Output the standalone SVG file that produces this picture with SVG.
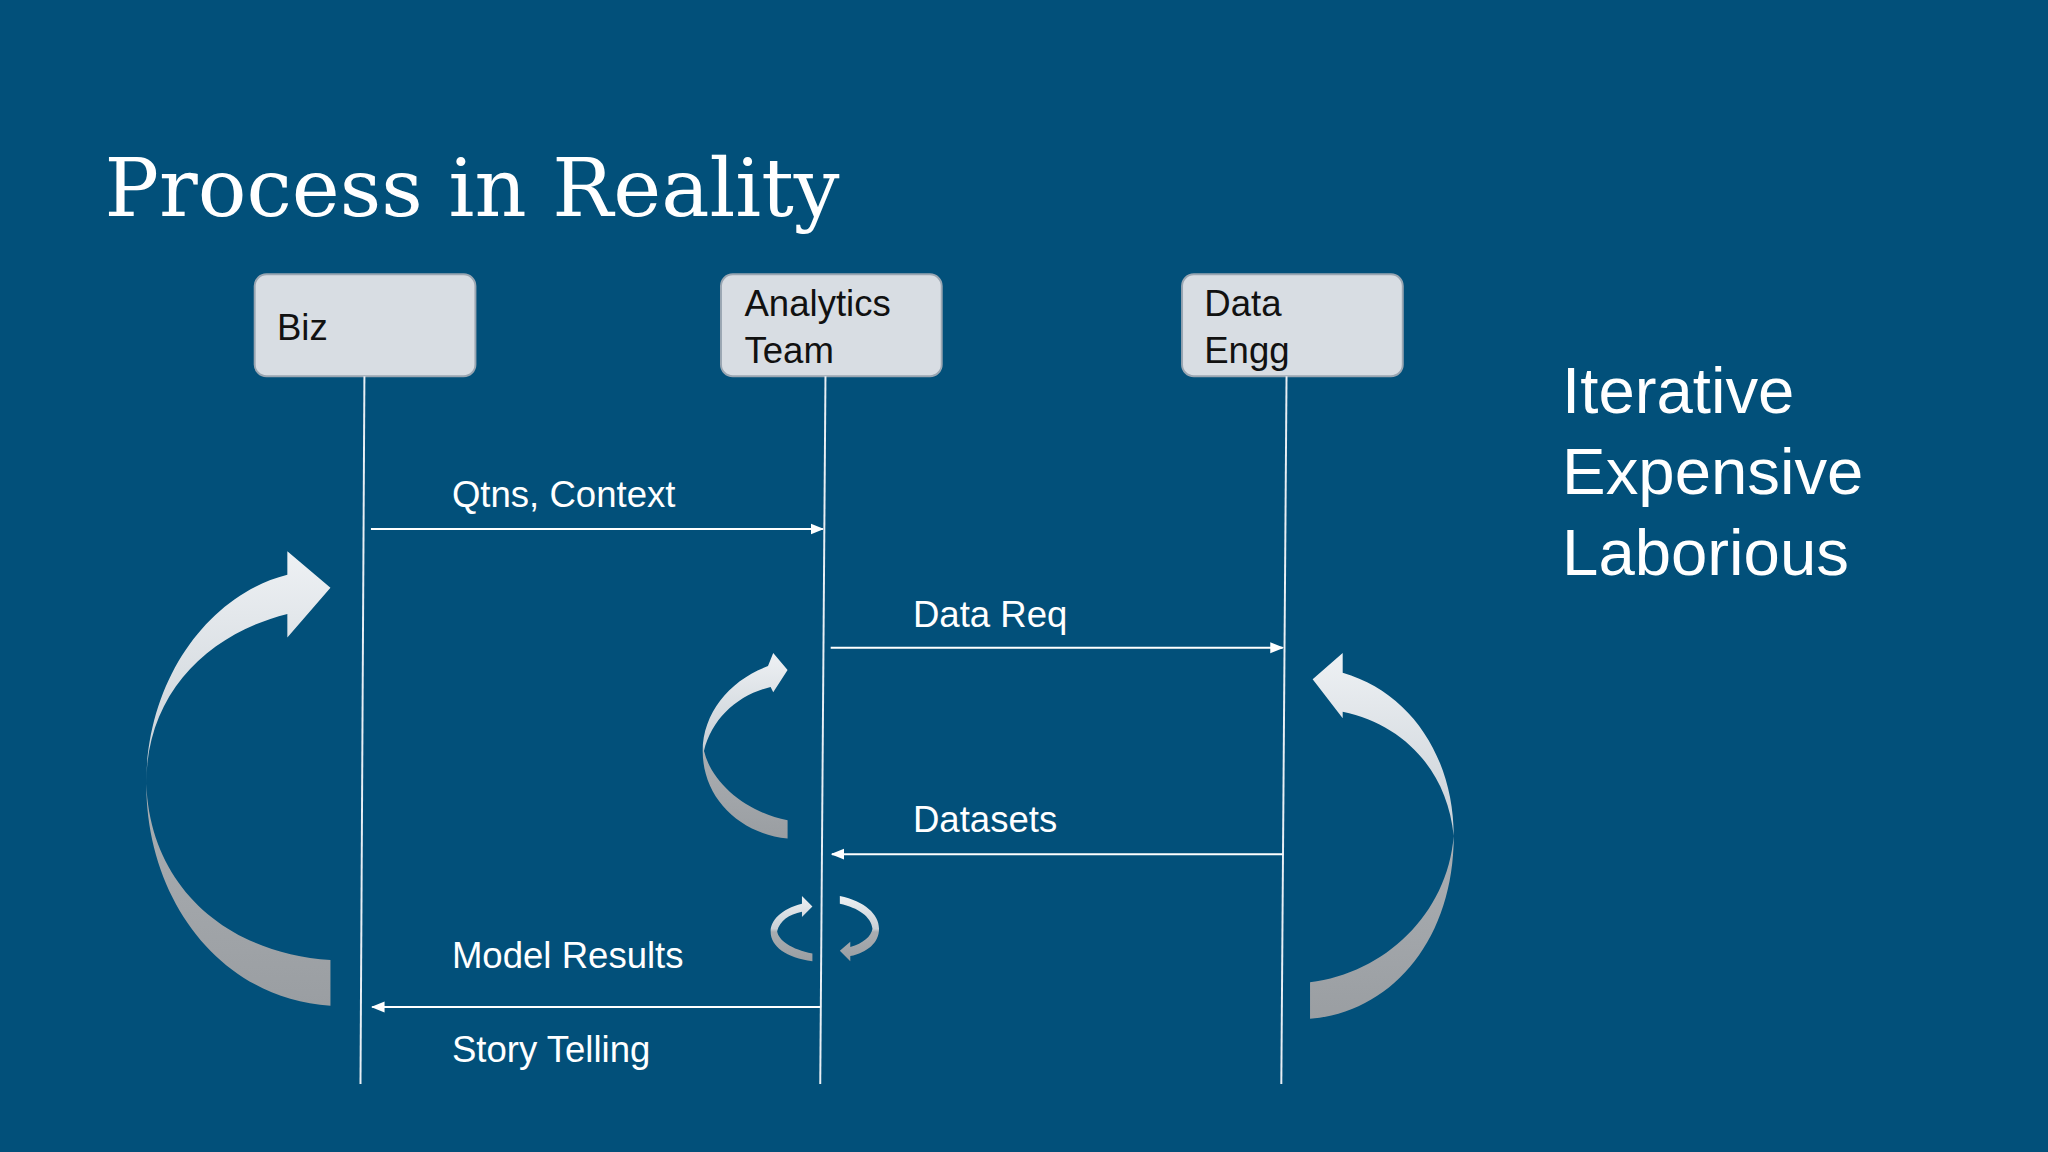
<svg xmlns="http://www.w3.org/2000/svg" width="2048" height="1152" viewBox="0 0 2048 1152">
<style>
.box{fill:#d8dde3;stroke:#9aa6b2;stroke-width:1.5}
.bt{font-family:"Liberation Sans",Arial,sans-serif;font-size:28px;fill:#111}
.lbl{font-family:"Liberation Sans",Arial,sans-serif;font-size:28px;fill:#fff}
.life{stroke:#e8eef4;stroke-width:1.5;fill:none}
.msg{stroke:#fff;stroke-width:1.5;fill:none;marker-end:url(#ah)}
.side{font-family:"Liberation Sans",Arial,sans-serif;font-size:50px;fill:#fff}
</style>
<defs>
<marker id="ah" viewBox="0 0 10 10" refX="9" refY="5" markerWidth="7" markerHeight="7" orient="auto"><path d="M0,1 L10,5 L0,9 Z" fill="#fff"/></marker>
<linearGradient id="g" x1="0" y1="0" x2="0" y2="1"><stop offset="0" stop-color="#eef1f4"/><stop offset="0.5" stop-color="#c9d0d6"/><stop offset="0.55" stop-color="#a9adb1"/><stop offset="1" stop-color="#9a9ea2"/></linearGradient>
</defs>
<rect width="2048" height="1152" fill="#02507a"/>
<g transform="scale(1.306122)">
<text x="80" y="165" font-family="'DejaVu Serif','Liberation Serif',serif" font-size="62" fill="#fff">Process in Reality</text>
<g id="biz"><rect class="box" x="195" y="210" width="169" height="78" rx="9"/><text class="bt" x="212" y="260">Biz</text></g>
<g id="analytics"><rect class="box" x="552" y="210" width="169" height="78" rx="9"/><text class="bt" x="570" y="242">Analytics</text><text class="bt" x="570" y="278">Team</text></g>
<g id="dataengg"><rect class="box" x="905" y="210" width="169" height="78" rx="9"/><text class="bt" x="922" y="242">Data</text><text class="bt" x="922" y="278">Engg</text></g>
<g id="connectors">
<line class="life" x1="279" y1="288" x2="276" y2="830"/>
<line class="life" x1="632" y1="288" x2="628" y2="830"/>
<line class="life" x1="985" y1="288" x2="981" y2="830"/>
<line class="msg" x1="284" y1="405" x2="630" y2="405"/>
<line class="msg" x1="636" y1="496" x2="982" y2="496"/>
<line class="msg" x1="982" y1="654" x2="637" y2="654"/>
<line class="msg" x1="628" y1="771" x2="285" y2="771"/>
</g>
<text class="lbl" x="346" y="388">Qtns, Context</text>
<text class="lbl" x="699" y="480">Data Req</text>
<text class="lbl" x="699" y="637">Datasets</text>
<text class="lbl" x="346" y="741">Model Results</text>
<text class="lbl" x="346" y="813">Story Telling</text>
<g id="loops" fill="url(#g)">
<path d="M220,440 C160,455 112,520 112,600 C112,690 170,765 253,770 L253,735 C175,730 115,680 112,600 C112,530 160,485 220,470 L220,488 L253,450 L220,422 Z"/>
<path d="M588,510 C560,520 538,545 538,575 C538,610 565,638 603,642 L603,628 C572,622 545,600 539,575 C545,550 565,532 590,526 L592,530 L603,513 L592,500 Z"/>
<path d="M1028,515 C1080,530 1113,580 1113,640 C1113,720 1065,775 1003,780 L1003,752 C1060,745 1108,700 1113,640 C1108,590 1075,555 1028,545 L1028,550 L1005,520 L1028,500 Z"/>
<path d="M614,692 C598,696 590,705 590,713 C590,725 602,733 622,736 L622,730 C606,727 596,720 595,713 C597,705 604,700 614,698 L614,702 L622,694 L614,686 Z"/>
<path d="M643,686 C662,690 673,700 673,711 C673,722 664,729 651,732 L651,736 L643,728 L651,721 L651,725 C661,722 667,717 668,711 C667,702 657,695 643,692 Z"/>
</g>
<text class="side" x="1196" y="316">Iterative</text>
<text class="side" x="1196" y="378">Expensive</text>
<text class="side" x="1196" y="440">Laborious</text>
</g>
</svg>
